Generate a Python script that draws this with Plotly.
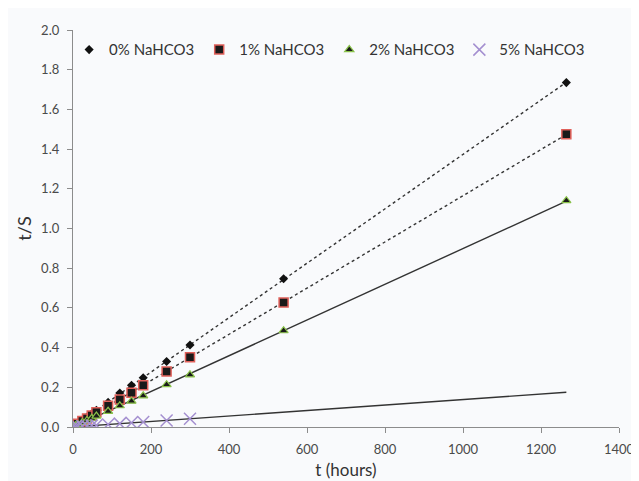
import numpy as np
import plotly.graph_objects as go

# Data (t in hours, t/S)
t_main = [0, 6, 12, 24, 36, 48, 60, 90, 120, 150, 180, 240, 300, 540, 1265]
s0 = [0.002, 0.011, 0.019, 0.035, 0.050, 0.067, 0.084, 0.124, 0.171, 0.210, 0.248, 0.330, 0.413, 0.747, 1.735]
s1 = [0.002, 0.009, 0.016, 0.030, 0.043, 0.058, 0.074, 0.107, 0.138, 0.172, 0.210, 0.280, 0.352, 0.627, 1.475]
s2 = [0.001, 0.007, 0.012, 0.023, 0.033, 0.044, 0.055, 0.079, 0.107, 0.130, 0.157, 0.213, 0.263, 0.485, 1.140]
t_5 = [0, 6, 12, 24, 36, 48, 60, 90, 120, 150, 180, 240, 300]
s5 = [0.000, 0.001, 0.002, 0.004, 0.005, 0.007, 0.009, 0.013, 0.017, 0.021, 0.025, 0.033, 0.042]
trend_end = 1265

names = ["0% NaHCO3", "1% NaHCO3", "2% NaHCO3", "5% NaHCO3"]

fig = go.Figure()

def trend(x, y, dash):
    k, b = np.polyfit(x, y, 1)
    xs = np.array([0, trend_end])
    fig.add_trace(go.Scatter(x=xs, y=k * xs + b, mode="lines",
                             line=dict(color="#333333", width=1.4, dash=dash),
                             showlegend=False, hoverinfo="skip"))

trend(t_main, s0, "dot")
trend(t_main, s1, "dot")
trend(t_main, s2, "solid")
trend(t_5, s5, "solid")

fig.add_trace(go.Scatter(x=t_main, y=s0, mode="markers", name=names[0],
                         marker=dict(symbol="diamond", size=7, color="#111111")))
fig.add_trace(go.Scatter(x=t_main, y=s1, mode="markers", name=names[1],
                         marker=dict(symbol="square", size=9, color="#1a1a1a",
                                     line=dict(color="#e0605a", width=1.5))))
fig.add_trace(go.Scatter(x=t_main, y=s2, mode="markers", name=names[2],
                         marker=dict(symbol="triangle-up", size=8, color="#1a1a1a",
                                     line=dict(color="#8ac24a", width=1.2))))
fig.add_trace(go.Scatter(x=t_5, y=s5, mode="markers", name=names[3],
                         marker=dict(symbol="x-thin", size=12, color="#a48fd0",
                                     line=dict(color="#a48fd0", width=1.5))))

axis_common = dict(showline=True, linecolor="#8c8c8c", linewidth=1.3,
                   ticks="outside", ticklen=5, tickcolor="#8c8c8c",
                   showgrid=False, zeroline=False, ticklabelstandoff=5,
                   tickfont=dict(family="Lato, Open Sans, sans-serif", size=13, color="#4a4a4a"))

fig.update_xaxes(range=[0, 1400], dtick=200, title=dict(text="t (hours)", standoff=8,
                 font=dict(family="Lato, Open Sans, sans-serif", size=17, color="#333333")),
                 **axis_common)
fig.update_yaxes(range=[0, 2.0], dtick=0.2, tickformat=".1f",
                 title=dict(text="t/S", standoff=4,
                            font=dict(family="Lato, Open Sans, sans-serif", size=18, color="#333333")),
                 **axis_common)

fig.update_layout(
    width=639, height=481,
    margin=dict(l=65, r=19, t=22, b=59),
    paper_bgcolor="#f9fafc", plot_bgcolor="#f9fafc",
    legend=dict(orientation="h", x=0.47, y=0.95, xanchor="center", yanchor="middle",
                bgcolor="rgba(0,0,0,0)",
                font=dict(family="Lato, Open Sans, sans-serif", size=15, color="#333333"),
                itemwidth=30, tracegroupgap=0),
    showlegend=True,
)

fig.write_html("out.html")
